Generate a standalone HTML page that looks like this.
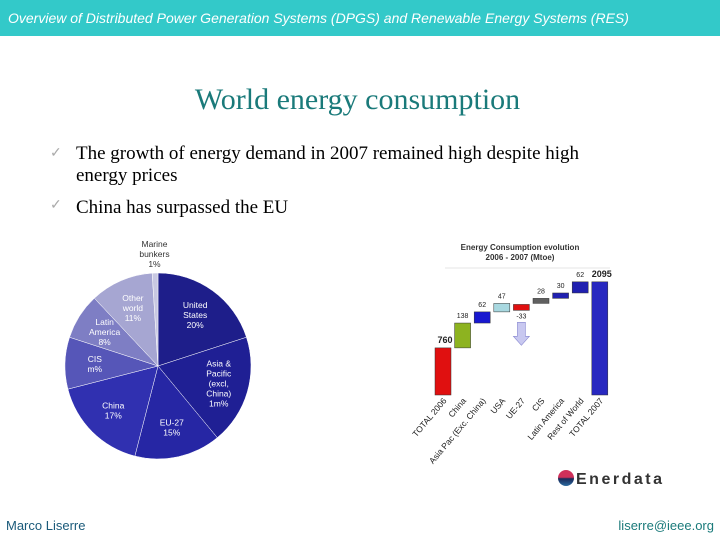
<!DOCTYPE html>
<html><head><meta charset="utf-8"><style>
body{margin:0;width:720px;height:540px;background:#fff;position:relative;overflow:hidden;font-family:"Liberation Sans",sans-serif}
.abs{position:absolute}
</style></head><body>
<div class="abs" style="left:0;top:0;width:720px;height:36px;background:#33c9c9"></div>
<div class="abs" style="left:8px;top:10px;font-size:14px;font-style:italic;color:#fff;white-space:nowrap">Overview of Distributed Power Generation Systems (DPGS) and Renewable Energy Systems (RES)</div>
<div class="abs" style="left:0;width:715px;top:83px;text-align:center;font-family:'Liberation Serif',serif;font-size:30px;color:#1a7a7a">World energy consumption</div>
<div class="abs" style="left:50px;top:143px;font-family:'Liberation Serif',serif;font-size:19px;line-height:22px;color:#000"><span style="position:absolute;left:0;color:#aaa;font-size:14px">✓</span><div style="margin-left:26px;width:535px">The growth of energy demand in 2007 remained high despite high energy prices</div></div>
<div class="abs" style="left:50px;top:197px;font-family:'Liberation Serif',serif;font-size:19px;color:#000"><span style="position:absolute;left:0;color:#aaa;font-size:14px">✓</span><div style="margin-left:26px">China has surpassed the EU</div></div>

<svg class="abs" style="left:0;top:0" width="720" height="540">
<g id="pie"></g>
<g id="wf"></g>
</svg>

<div class="abs" style="left:558px;top:470px;font-size:16px;font-weight:bold;color:#333;letter-spacing:2.5px"><span style="display:inline-block;width:16px;height:16px;border-radius:50%;background:linear-gradient(#d0305a 45%,#1a2a5a 55%,#2a6aa0);vertical-align:-2px;margin-right:2px"></span>Enerdata</div>
<div class="abs" style="left:6px;top:518px;font-size:13px;color:#1a5a7a">Marco Liserre</div>
<div class="abs" style="right:6px;top:518px;font-size:13px;color:#1a7a7a">liserre@ieee.org</div>

<script>
const NS='http://www.w3.org/2000/svg';
function mk(p,t,a){const e=document.createElementNS(NS,t);for(const k in a)e.setAttribute(k,a[k]);p.appendChild(e);return e;}
// Pie data
const pieLabels=[["United","States","20%"],["Asia &","Pacific","(excl,","China)","1m%"],["EU-27","15%"],["China","17%"],["CIS","m%"],["Latin","America","8%"],["Other","world","11%"],["Marine","bunkers","1%"]];
const pieShares=[20,19,15,17,9,8,11,1];
const pieColors=["#1e1e8a","#1f1f94","#2626a4","#3030b0","#5656b8","#7e7ec4","#a6a6d2","#c8c8e2"];
const pie=document.getElementById('pie');
const cx=158,cy=366,r=93;
let tot=pieShares.reduce((a,b)=>a+b,0),acc=0;
pieShares.forEach((v,i)=>{
 const a0=acc/tot*2*Math.PI,a1=(acc+v)/tot*2*Math.PI;acc+=v;
 const p=(a)=>[cx+r*Math.sin(a),cy-r*Math.cos(a)];
 const [x0,y0]=p(a0),[x1,y1]=p(a1);
 const s=mk(pie,'path',{d:`M${cx},${cy}L${x0},${y0}A${r},${r} 0 ${a1-a0>Math.PI?1:0} 1 ${x1},${y1}Z`,fill:pieColors[i],stroke:'#fff','stroke-width':0.5});
 
 
 const am=(a0+a1)/2;const lr=i===7?r+19:r*0.68;
 const lx=cx+lr*Math.sin(am),ly=cy-lr*Math.cos(am);
 const lines=pieLabels[i];
 lines.forEach((t,j)=>{
  const tx=mk(pie,'text',{x:lx,y:ly+(j-(lines.length-1)/2)*10+3,'font-size':8.5,'text-anchor':'middle',fill:i===7?'#333':'#fff','font-family':'Liberation Sans, sans-serif'});
  tx.textContent=t;
  
  
 });
});
// Waterfall data
const wfCats=["TOTAL 2006","China","Asia Pac (Exc. China)","USA","UE-27","CIS","Latin America","Rest of World","TOTAL 2007"];
const wfValues=[760,138,62,47,-33,28,30,62,2095];
const wfColors=["#e01010","#8db320","#1818d0","#a8d8e0","#e01010","#606060","#2020b0","#2020b0","#2828c0"];
const wf=document.getElementById('wf');
const base=395,sTot=0.062,sInc=0.18,x0=435,step=19.6,bw=16;
const t1=mk(wf,'text',{x:520,y:250,'font-size':8,'text-anchor':'middle',fill:'#333','font-weight':'bold'});t1.textContent='Energy Consumption evolution';

const t2=mk(wf,'text',{x:520,y:260,'font-size':8,'text-anchor':'middle',fill:'#333','font-weight':'bold'});t2.textContent='2006 - 2007 (Mtoe)';

mk(wf,'line',{x1:445,y1:268,x2:610,y2:268,stroke:'#ccc','stroke-width':0.6});
let cum=base-wfValues[0]*sTot;
wfValues.forEach((v,i)=>{
 const x=x0+i*step;let top,bot;
 if(i===0){top=cum;bot=base;}
 else if(i===wfValues.length-1){top=cum;bot=base;}
 else{const n=cum-v*sInc;top=Math.min(n,cum);bot=Math.max(n,cum);if(v<0){top=cum+1;bot=cum+1-v*sInc;}else cum=n;}
 const b=mk(wf,'rect',{x:x,y:top,width:bw,height:bot-top,fill:wfColors[i],stroke:'#333','stroke-width':0.5});
 
 
 const big=(i===0||i===wfValues.length-1);
 const lbl=mk(wf,'text',{x:x+bw/2+(big?2:0),y:v<0?bot+8:top-5,'font-size':big?9:7,'font-weight':big?'bold':'normal','text-anchor':'middle',fill:'#222'});
 lbl.textContent=v;
 
 
 if(v<0){const ax=x+bw/2,ay=bot+12;
  const ar=mk(wf,'path',{d:`M${ax-4},${ay}h8v14h4l-8,9l-8,-9h4z`,fill:'#c8c8f0',stroke:'#8888d0','stroke-width':0.6});
  }
 const c=mk(wf,'text',{x:x+bw/2+4,y:base+6,'font-size':8.5,'text-anchor':'end',fill:'#222',transform:`rotate(-50 ${x+bw/2+4} ${base+6})`});
 c.textContent=wfCats[i];
 
 
});
</script>
</body></html>
